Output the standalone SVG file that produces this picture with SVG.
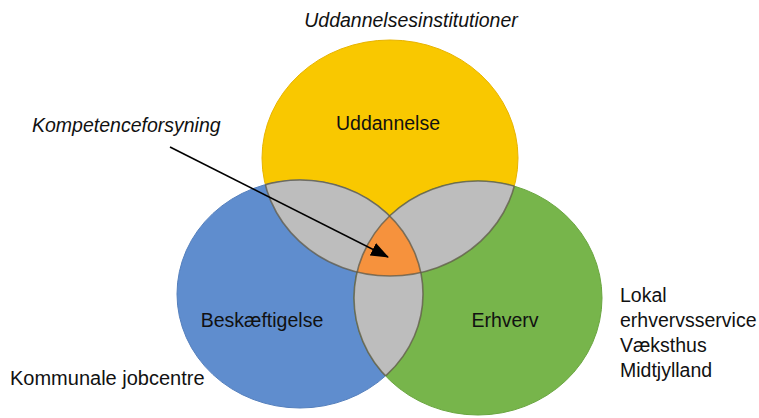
<svg xmlns="http://www.w3.org/2000/svg" width="759" height="418" viewBox="0 0 759 418">
<style>
text{font-family:"Liberation Sans",Arial,sans-serif;font-size:19.5px;fill:#111}
.it{font-style:italic}
.edge{fill:none;stroke:#5f5a48;stroke-width:1.6;stroke-opacity:0.75}
.lens{fill:#bdbdbd}
</style>
<defs>
<clipPath id="cY"><ellipse cx="390" cy="158" rx="128" ry="118"/></clipPath>
<clipPath id="cB"><ellipse cx="300" cy="294" rx="123" ry="114"/></clipPath>
<clipPath id="cG"><ellipse cx="478" cy="298" rx="124" ry="117"/></clipPath>
<clipPath id="cBG"><ellipse cx="300" cy="294" rx="123" ry="114"/><ellipse cx="478" cy="298" rx="124" ry="117"/></clipPath>
<clipPath id="cYG"><ellipse cx="390" cy="158" rx="128" ry="118"/><ellipse cx="478" cy="298" rx="124" ry="117"/></clipPath>
<clipPath id="cYB"><ellipse cx="390" cy="158" rx="128" ry="118"/><ellipse cx="300" cy="294" rx="123" ry="114"/></clipPath>
<marker id="ah" markerWidth="18" markerHeight="14" refX="17" refY="7" orient="auto" markerUnits="userSpaceOnUse">
<path d="M0,0 L18,7 L0,14 Z" fill="#000"/>
</marker>
</defs>
<g id="uddannelse">
<ellipse cx="390" cy="158" rx="128" ry="118" fill="#f9c800" stroke="#e8b400" stroke-width="1"/>
</g>
<g id="beskaeftigelse">
<ellipse cx="300" cy="294" rx="123" ry="114" fill="#5f8dce" stroke="#5580bd" stroke-width="1"/>
</g>
<g id="erhverv">
<ellipse cx="478" cy="298" rx="124" ry="117" fill="#77b54b" stroke="#6aa640" stroke-width="1"/>
</g>
<g id="overlaps">
<g clip-path="url(#cY)"><ellipse class="lens" cx="300" cy="294" rx="123" ry="114"/></g>
<g clip-path="url(#cY)"><ellipse class="lens" cx="478" cy="298" rx="124" ry="117"/></g>
<g clip-path="url(#cB)"><ellipse class="lens" cx="478" cy="298" rx="124" ry="117"/></g>
<g clip-path="url(#cY)"><g clip-path="url(#cB)"><ellipse id="kompetenceforsyning" cx="478" cy="298" rx="124" ry="117" fill="#f6923d"/></g></g>
<g clip-path="url(#cBG)"><ellipse class="edge" cx="390" cy="158" rx="128" ry="118"/></g>
<g clip-path="url(#cYG)"><ellipse class="edge" cx="300" cy="294" rx="123" ry="114"/></g>
<g clip-path="url(#cYB)"><ellipse class="edge" cx="478" cy="298" rx="124" ry="117"/></g>
</g>
<g id="labels">
<text x="411" y="27" text-anchor="middle" class="it">Uddannelsesinstitutioner</text>
<text x="388" y="130" text-anchor="middle">Uddannelse</text>
<text x="32" y="132" class="it">Kompetenceforsyning</text>
<text x="262" y="327" text-anchor="middle">Beskæftigelse</text>
<text x="505" y="327" text-anchor="middle">Erhverv</text>
<text x="10" y="385" style="font-size:20px">Kommunale jobcentre</text>
<text x="620" y="302">Lokal</text>
<text x="620" y="327">erhvervsservice</text>
<text x="620" y="352">Væksthus</text>
<text x="620" y="377">Midtjylland</text>
</g>
<g id="connectors">
<line x1="170" y1="147" x2="388" y2="257" stroke="#000" stroke-width="1.6" marker-end="url(#ah)"/>
</g>
</svg>
